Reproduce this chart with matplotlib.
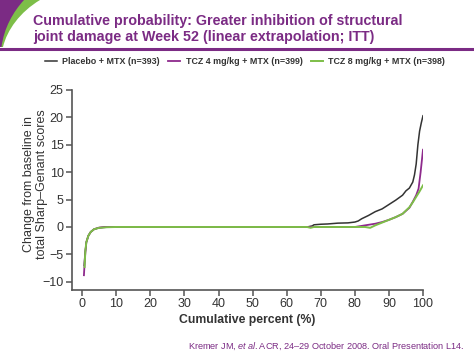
import matplotlib
matplotlib.use("Agg")
import matplotlib.pyplot as plt
from matplotlib.path import Path
from matplotlib.patches import PathPatch
from matplotlib.lines import Line2D

plt.rcParams['font.family'] = ['Liberation Sans', 'DejaVu Sans']
plt.rcParams['mathtext.fontset'] = 'custom'
plt.rcParams['mathtext.rm'] = 'Liberation Sans'
plt.rcParams['mathtext.it'] = 'Liberation Sans:italic'

# ---- data ----
placebo_pct = [0.6, 0.8, 1.2, 1.8, 2.5, 3.5, 5, 7, 10, 30, 50, 66, 67.5, 68, 70, 72, 75, 78, 80,
               81, 82, 84, 86, 88, 90, 92, 94, 95, 96, 97, 97.5, 98, 98.5, 99, 99.5, 100]
placebo_val = [-7.0, -5.0, -2.8, -1.6, -0.9, -0.4, -0.15, -0.05, 0, 0, 0, 0, 0.2, 0.4, 0.5, 0.55,
               0.7, 0.75, 0.9, 1.1, 1.5, 2.1, 2.8, 3.3, 4.1, 4.9, 5.8, 6.6, 7.1, 8.2, 9.5, 11.5,
               15.0, 17.5, 19.0, 20.3]
tcz4_pct = [0.5, 0.8, 1.2, 1.8, 2.5, 3.5, 5, 6.5, 10, 50, 80, 82, 84, 86, 88, 90, 92, 94, 96, 97,
            98, 98.7, 99.3, 100]
tcz4_val = [-8.8, -5.5, -2.8, -1.6, -0.9, -0.4, -0.1, 0, 0, 0, 0, 0.2, 0.4, 0.6, 0.9, 1.3, 1.8,
            2.4, 3.5, 4.6, 5.8, 7.0, 10.0, 14.1]
tcz8_pct = [0.7, 0.9, 1.2, 1.8, 2.5, 3.5, 5, 7, 10, 50, 66, 67, 68, 70, 80, 83, 84.5, 86, 88, 90,
            92, 94, 96, 97, 98, 99, 100]
tcz8_val = [-7.3, -4.5, -2.8, -1.6, -0.9, -0.4, -0.15, -0.05, 0, 0, 0, -0.15, 0, 0, 0, 0, -0.15,
            0.3, 0.8, 1.3, 1.8, 2.4, 3.6, 4.5, 5.5, 6.5, 7.6]
series_labels = ['Placebo + MTX (n=393)', 'TCZ 4 mg/kg + MTX (n=399)', 'TCZ 8 mg/kg + MTX (n=398)']
x_ticks = [0, 10, 20, 30, 40, 50, 60, 70, 80, 90, 100]
y_ticks = [-10, -5, 0, 5, 10, 15, 20, 25]

C_BLACK = '#333333'
C_PURPLE = '#8E2A8C'
C_GREEN = '#7DBE48'
C_TITLE = '#7B2B84'
C_TEXT = '#333333'

W, H = 474, 355
fig = plt.figure(figsize=(W / 100, H / 100), dpi=100)
fig.patch.set_facecolor('white')


def fx(px):
    return px / W


def fy(py):
    return 1 - py / H


# ---- decorative swoosh (top-left) ----
green_path = Path(
    [(fx(0), fy(0)), (fx(40), fy(0)),
     (fx(20), fy(12)), (fx(7), fy(30)), (fx(3), fy(47)),
     (fx(0), fy(47)), (fx(0), fy(0))],
    [Path.MOVETO, Path.LINETO, Path.CURVE4, Path.CURVE4, Path.CURVE4, Path.LINETO, Path.CLOSEPOLY])
fig.patches.append(PathPatch(green_path, transform=fig.transFigure, facecolor=C_GREEN,
                             edgecolor='none', zorder=0))
purple_path = Path(
    [(fx(0), fy(0)), (fx(24), fy(0)),
     (fx(13), fy(12)), (fx(4), fy(28)), (fx(1.5), fy(47)),
     (fx(0), fy(47)), (fx(0), fy(0))],
    [Path.MOVETO, Path.LINETO, Path.CURVE4, Path.CURVE4, Path.CURVE4, Path.LINETO, Path.CLOSEPOLY])
fig.patches.append(PathPatch(purple_path, transform=fig.transFigure, facecolor=C_TITLE,
                             edgecolor='none', zorder=1))

# horizontal rule under the title
fig.add_artist(Line2D([0, 1], [fy(49), fy(49)], transform=fig.transFigure,
                      color=C_TITLE, linewidth=2.2))

# ---- title ----
fig.text(fx(33), fy(25), 'Cumulative probability: Greater inhibition of structural',
         color=C_TITLE, fontsize=10.3, fontweight='bold', va='baseline', ha='left')
fig.text(fx(33), fy(41), 'joint damage at Week 52 (linear extrapolation; ITT)',
         color=C_TITLE, fontsize=10.3, fontweight='bold', va='baseline', ha='left')

# ---- axes ----
ax = fig.add_axes([fx(72), fy(290), fx(423) - fx(72), fy(90) - fy(290)])
ax.plot(placebo_pct, placebo_val, color=C_BLACK, lw=1.1, label=series_labels[0], zorder=2)
ax.plot(tcz4_pct, tcz4_val, color=C_PURPLE, lw=1.3, label=series_labels[1], zorder=3)
ax.plot(tcz8_pct, tcz8_val, color=C_GREEN, lw=1.4, label=series_labels[2], zorder=4)

ax.set_xlim(-3, 100)
ax.set_ylim(-11.5, 25)
ax.set_xticks(x_ticks)
ax.set_yticks(y_ticks)
ax.set_yticklabels([str(v).replace('-', '\u2212') for v in y_ticks])
for s in ['top', 'right']:
    ax.spines[s].set_visible(False)
for s in ['left', 'bottom']:
    ax.spines[s].set_color('#555555')
    ax.spines[s].set_linewidth(1.2)
ax.tick_params(axis='both', colors='#555555', labelcolor=C_TEXT, labelsize=9,
               length=4, width=1.1, direction='out', pad=2)

ax.set_xlabel('Cumulative percent (%)', fontsize=8.8, fontweight='bold', color=C_TEXT, labelpad=3)
ax.set_ylabel('Change from baseline in\ntotal Sharp\u2013Genant scores', fontsize=9,
              color=C_TEXT, linespacing=1.15)
ax.yaxis.set_label_coords(-0.068, 0.53)

# ---- legend ----
leg = fig.legend(loc='center', bbox_to_anchor=(fx(245), fy(62)), ncol=3, frameon=False,
                 handlelength=1.4, handletextpad=0.6, columnspacing=0.9,
                 prop={'weight': 'bold', 'size': 6.4})
for t in leg.get_texts():
    t.set_color(C_TEXT)

# ---- footer ----
fig.text(fx(464), fy(349),
         r'Kremer JM, $\mathit{et\ al.}$' + 'ACR, 24\u201329 October 2008. Oral Presentation L14.',
         color=C_TITLE, fontsize=6.6, ha='right', va='baseline')

fig.savefig('out.png', dpi=100)
